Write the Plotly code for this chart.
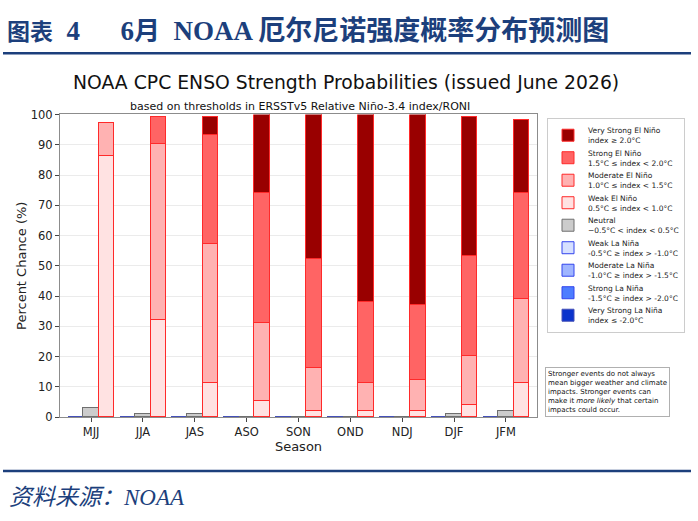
"""NOAA CPC ENSO strength probabilities chart (recreated with plotly)."""

import plotly.graph_objects as go

# Seasons on the x axis
seasons = ["MJJ", "JJA", "JAS", "ASO", "SON", "OND", "NDJ", "DJF", "JFM"]

# El Nino categories (stacked, % chance)
weak_el_nino = [86, 32, 11, 5, 2, 2, 2, 4, 11]
moderate_el_nino = [11, 58, 46, 26, 14, 9, 10, 16, 28]
strong_el_nino = [0, 9, 36, 43, 36, 27, 25, 33, 35]
very_strong_el_nino = [0, 0, 6, 26, 48, 62, 63, 46, 24]

# Neutral
neutral = [3, 1, 1, 0, 0, 0, 0, 1, 2]

# La Nina categories (stacked, % chance)
weak_la_nina = [0, 0, 0, 0, 0, 0, 0, 0, 0]
moderate_la_nina = [0, 0, 0, 0, 0, 0, 0, 0, 0]
strong_la_nina = [0, 0, 0, 0, 0, 0, 0, 0, 0]
very_strong_la_nina = [0, 0, 0, 0, 0, 0, 0, 0, 0]

y_ticks = list(range(0, 101, 10))

W, H = 698, 521
BAR_W = 0.3
FONT = "DejaVu Sans"
CJK = "Liberation Serif, Noto Sans CJK SC"
NAVY = "#1c3f7c"

# the captured page comes out slightly squeezed vertically; these undo it
Y_SHIFT, Y_SCALE = 5.7, 0.976


def px_x(px):
    return px / W


def px_y(py):
    return 1 - ((py - Y_SHIFT) / Y_SCALE) / H


idx = list(range(len(seasons)))
x_la = [i - BAR_W for i in idx]
x_neu = idx
x_el = [i + BAR_W for i in idx]

fig = go.Figure()


def add_bar(x, y, name, fill, edge, rank):
    fig.add_trace(
        go.Bar(
            x=x,
            y=y,
            width=BAR_W,
            name=name,
            marker={"color": fill, "line": {"color": edge, "width": 1}},
            legendrank=rank,
            hoverinfo="y+name",
        )
    )


# La Nina stack (left of each season)
add_bar(x_la, weak_la_nina, "Weak La Niña<br>-0.5°C ≥ index > -1.0°C", "#d6e0ff", "#3344ee", 6)
add_bar(x_la, moderate_la_nina, "Moderate La Niña<br>-1.0°C ≥ index > -1.5°C", "#9fb5ff", "#3344ee", 7)
add_bar(x_la, strong_la_nina, "Strong La Niña<br>-1.5°C ≥ index > -2.0°C", "#4d7dff", "#3344ee", 8)
add_bar(x_la, very_strong_la_nina, "Very Strong La Niña<br>index ≤ -2.0°C", "#0a33cc", "#4450b8", 9)

# Neutral (centre)
add_bar(x_neu, neutral, "Neutral<br>−0.5°C < index < 0.5°C", "#cccccc", "#6f6f6f", 5)

# El Nino stack (right of each season)
add_bar(x_el, weak_el_nino, "Weak El Niño<br>0.5°C ≤ index < 1.0°C", "#ffe2e2", "#ff2a2a", 4)
add_bar(x_el, moderate_el_nino, "Moderate El Niño<br>1.0°C ≤ index < 1.5°C", "#ffb2b2", "#ff2a2a", 3)
add_bar(x_el, strong_el_nino, "Strong El Niño<br>1.5°C ≤ index < 2.0°C", "#ff6464", "#ff2a2a", 2)
add_bar(x_el, very_strong_el_nino, "Very Strong El Niño<br>index ≥ 2.0°C", "#990000", "#ff2a2a", 1)

# Header / footer rules
for yy in [52, 471]:
    fig.add_shape(
        type="line", xref="paper", yref="paper",
        x0=px_x(3), x1=px_x(691), y0=px_y(yy), y1=px_y(yy),
        line={"color": NAVY, "width": 2.5},
    )

header = (
    "<b><span style='font-size:23px'>图表</span>  4      6<span style='font-size:26px'>月</span>"
    "  NOAA 厄尔尼诺强度概率分布预测图</b>"
)

annotations = [
    dict(
        text=header,
        x=px_x(5), y=px_y(30), xanchor="left", yanchor="middle",
        font={"family": CJK, "size": 27, "color": NAVY},
    ),
    dict(
        text="<i>资料来源：NOAA</i>",
        x=px_x(7), y=px_y(498), xanchor="left", yanchor="middle",
        font={"family": CJK, "size": 23, "color": NAVY},
    ),
    dict(
        text="NOAA CPC ENSO Strength Probabilities (issued June 2026)",
        x=px_x(346), y=px_y(81), xanchor="center", yanchor="middle",
        font={"family": FONT, "size": 18.8, "color": "#111111"},
    ),
    dict(
        text="based on thresholds in ERSSTv5 Relative Niño-3.4 index/RONI",
        x=px_x(300), y=px_y(105), xanchor="center", yanchor="middle",
        font={"family": FONT, "size": 11, "color": "#111111"},
    ),
    dict(
        text=(
            "Stronger events do not always<br>mean bigger weather and climate<br>"
            "impacts. Stronger events can<br>make it <i>more likely</i> that certain<br>"
            "impacts could occur."
        ),
        x=px_x(545), y=px_y(367), xanchor="left", yanchor="top",
        align="left",
        bordercolor="#b0b0b0", borderwidth=1, borderpad=2, bgcolor="white",
        font={"family": FONT, "size": 7, "color": "#111111"},
    ),
]
for a in annotations:
    a["showarrow"] = False
    a["xref"] = "paper"
    a["yref"] = "paper"
    fig.add_annotation(**a)

fig.update_layout(
    width=W,
    height=H,
    margin={"l": 0, "r": 0, "t": 0, "b": 0},
    paper_bgcolor="white",
    plot_bgcolor="white",
    barmode="stack",
    bargap=0,
    font={"family": FONT, "size": 11, "color": "#222222"},
    showlegend=True,
    legend={
        "x": px_x(547), "y": px_y(117), "xanchor": "left", "yanchor": "top",
        "traceorder": "normal",
        "bordercolor": "#cccccc", "borderwidth": 1, "bgcolor": "white",
        "font": {"family": FONT, "size": 7.5, "color": "#222222"},
        "tracegroupgap": 0, "itemwidth": 30,
    },
    xaxis={
        "domain": [px_x(60), px_x(537)],
        "range": [-0.6, 8.6],
        "tickvals": idx,
        "ticktext": seasons,
        "ticks": "outside", "ticklen": 4, "tickcolor": "#444444",
        "showline": True, "linecolor": "#8c8c8c", "mirror": True,
        "showgrid": False, "zeroline": False,
        "title": {"text": "Season", "font": {"size": 13}, "standoff": 2},
        "tickfont": {"size": 11.5},
    },
    yaxis={
        "domain": [px_y(417), px_y(113.5)],
        "range": [0, 100],
        "tickvals": y_ticks,
        "ticks": "outside", "ticklen": 4, "tickcolor": "#444444",
        "showline": True, "linecolor": "#8c8c8c", "mirror": True,
        "showgrid": True, "gridcolor": "#ebebeb", "zeroline": False,
        "title": {"text": "Percent Chance (%)", "font": {"size": 13}, "standoff": 1},
        "tickfont": {"size": 11.5},
    },
)

# the page's default body margin would shift the figure off its 698x521 frame
fig.write_html(
    "out.html",
    config={"displayModeBar": False},
    post_script="document.body.style.margin = '0';",
)
